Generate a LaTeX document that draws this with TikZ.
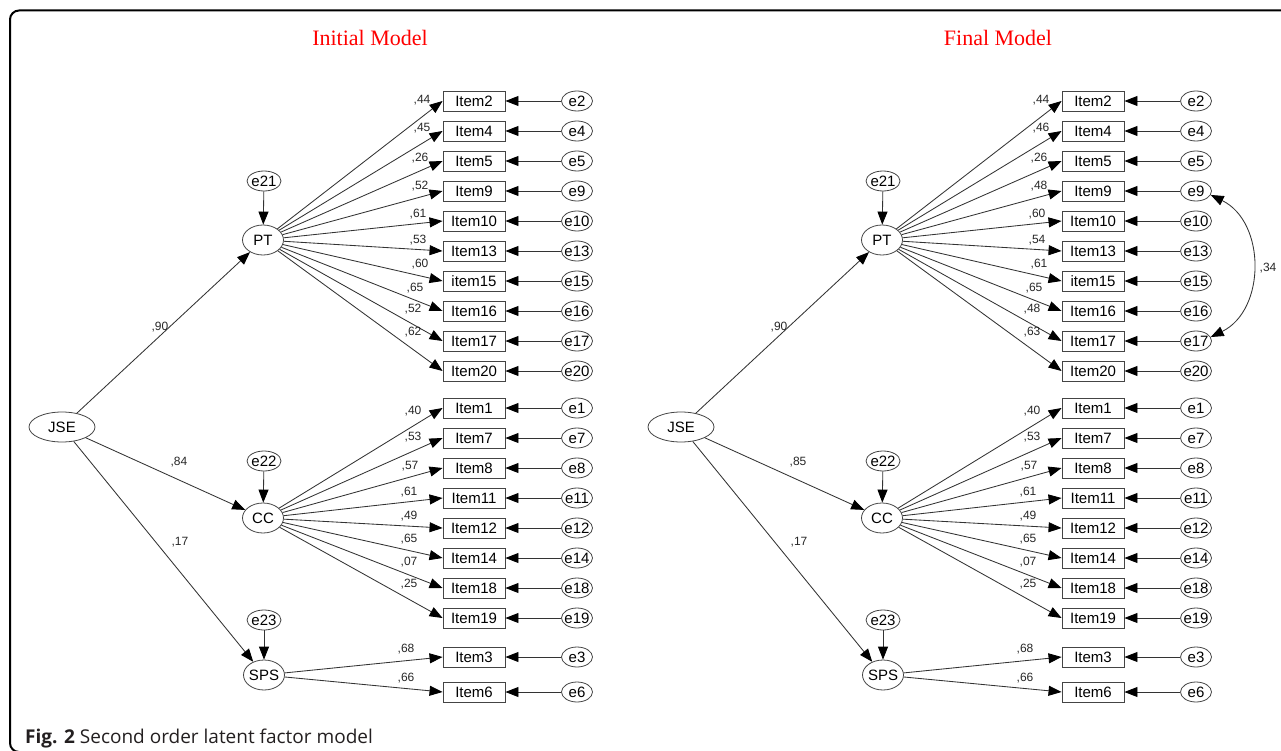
\documentclass[tikz,border=0pt]{standalone}
\usepackage{fontspec}
\setmainfont{Liberation Sans}
\newfontfamily\timesf{Liberation Serif}
\newfontfamily\capf{Open Sans}
\usetikzlibrary{arrows.meta,shapes.geometric}
\definecolor{linec}{HTML}{333333}
\definecolor{boxc}{HTML}{444444}
\definecolor{capc}{HTML}{231F20}
\newcommand\zb[1]{\makebox[0pt][c]{#1}}
\begin{document}
\begin{tikzpicture}[x=1pt,y=-1pt,
  item/.style={draw=boxc, line width=0.9pt, minimum width=62pt, minimum height=20pt, inner sep=0pt, font=\fontsize{15}{15}\selectfont},
  err/.style={ellipse, draw=boxc, line width=0.8pt, minimum width=31pt, minimum height=20pt, inner sep=0pt, font=\fontsize{15}{15}\selectfont},
  errs/.style={err, minimum width=34pt},
  lat/.style={ellipse, draw=boxc, line width=0.8pt, minimum width=41pt, minimum height=30pt, inner sep=0pt, font=\fontsize{15}{15}\selectfont},
  arr/.style={draw=linec, line width=0.85pt, -{Triangle[length=13pt,width=10pt,color=black]}},
  cov/.style={draw=linec, line width=0.85pt, {Triangle[length=13pt,width=10pt,color=black]}-{Triangle[length=13pt,width=10pt,color=black]}},
  lbl/.style={inner sep=0pt, font=\fontsize{12}{12}\selectfont, text=black!85},
  ttl/.style={text=red, font=\timesf\fontsize{22}{22}\selectfont}
]
\useasboundingbox (0,0) rectangle (1281,751);
% frame
\draw[line width=2pt, rounded corners=9pt] (1295,10.5) -- (10,10.5) -- (10,752) -- (1295,752);
% titles
\node[ttl] (t1) at (370,38) {Initial Model};
\node[ttl] (t2) at (998,38) {Final Model};
% caption
\node[anchor=base west, inner sep=0pt, text=capc, font=\capf\fontsize{19}{19}\selectfont] (cap) at (25,743) {\textbf{Fig. 2} Second order latent factor model};
% latent structure for both models
\foreach \s/\dx/\la/\lb/\lc in {L/0/90/84/17, R/619/90/85/17} {
  \node[lat, minimum width=66pt] (\s-JSE) at (62+\dx,427) {\zb{JSE}};
  \node[lat] (\s-PT) at (263+\dx,240) {\zb{PT}};
  \node[lat] (\s-CC) at (263+\dx,518) {\zb{CC}};
  \node[lat] (\s-SPS) at (264+\dx,675) {\zb{SPS}};
  \node[errs] (\s-e21) at (264+\dx,181) {\zb{e21}};
  \node[errs] (\s-e22) at (264+\dx,461) {\zb{e22}};
  \node[errs] (\s-e23) at (264+\dx,620) {\zb{e23}};
  \draw[arr] (\s-e21) -- (\s-PT);
  \draw[arr] (\s-e22) -- (\s-CC);
  \draw[arr] (\s-e23) -- (\s-SPS);
  \draw[arr] (\s-JSE) -- (\s-PT);
  \draw[arr] (\s-JSE) -- (\s-CC);
  \draw[arr] (\s-JSE) -- (\s-SPS);
  \node[lbl] (\s-l90) at (160+\dx,327) {,\la};
  \node[lbl] (\s-l84) at (179+\dx,462) {,\lb};
  \node[lbl] (\s-l17) at (180+\dx,542) {,\lc};
}
% indicators
\foreach \i/\y/\e/\f/\a/\b/\lx/\ly in {
 Item2/101/e2/PT/44/44/422/100,
 Item4/131/e4/PT/45/46/422/128,
 Item5/161/e5/PT/26/26/420/158,
 Item9/191/e9/PT/52/48/420/186,
 Item10/221/e10/PT/61/60/418/214,
 Item13/251/e13/PT/53/54/418/240,
 item15/281/e15/PT/60/61/420/264,
 Item16/311/e16/PT/65/65/415/288,
 Item17/341/e17/PT/52/48/413/309,
 Item20/371/e20/PT/62/63/413/332,
 Item1/408/e1/CC/40/40/413/411,
 Item7/438/e7/CC/53/53/413/437,
 Item8/468/e8/CC/57/57/410/466,
 Item11/498/e11/CC/61/61/409/492,
 Item12/528/e12/CC/49/49/409/516,
 Item14/558/e14/CC/65/65/409/539,
 Item18/588/e18/CC/07/07/409/562,
 Item19/618/e19/CC/25/25/409/584,
 Item3/657/e3/SPS/68/68/406/649,
 Item6/692/e6/SPS/66/66/406/678}
{
  \foreach \s/\dx/\lab in {L/0/\a, R/619/\b} {
    \node[item] (\s-\i) at (474+\dx,\y) {\i};
    \node[err] (\s-\e) at (577+\dx,\y) {\zb{\e}};
    \draw[arr] (\s-\e) -- (\s-\i);
    \draw[arr] (\s-\f) -- (\s-\i.west);
    \node[lbl] (\s-lab-\i) at (\lx+\dx,\ly) {,\lab};
  }
}
% covariance in final model
\draw[cov] (R-e9.-15) .. controls (1266,222) and (1266,310) .. (R-e17.15);
\node[lbl] (c34) at (1268,268) {,34};
\end{tikzpicture}
\end{document}
